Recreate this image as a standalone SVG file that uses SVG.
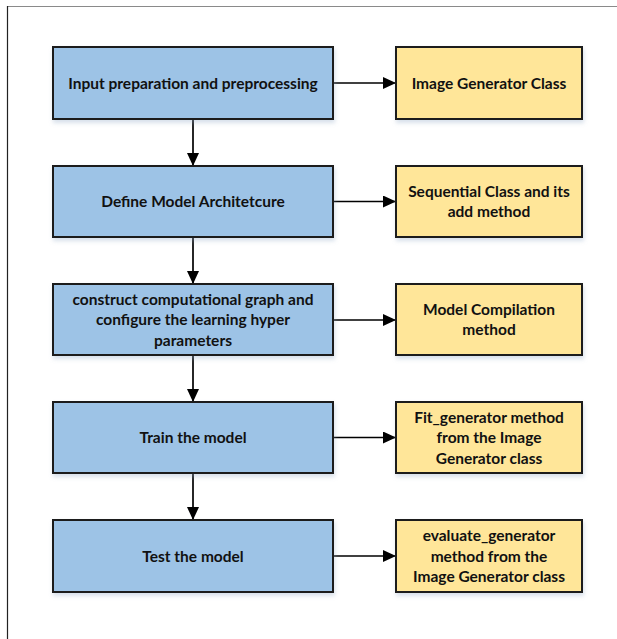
<svg xmlns="http://www.w3.org/2000/svg" width="617" height="639" viewBox="0 0 617 639">
  <style>
    .step { fill: #9DC3E6; stroke: #1a1a1a; stroke-width: 2; filter: url(#shadow); }
    .tool { fill: #FFE699; stroke: #1a1a1a; stroke-width: 2; filter: url(#shadow); }
    .label { font-family: Lato, "Liberation Sans", sans-serif; font-weight: bold; font-size: 15.5px; fill: #111; text-anchor: middle; }
    .edge { stroke: #000; stroke-width: 1.7; fill: none; marker-end: url(#arrow); }
  </style>
  <defs>
    <filter id="shadow" x="-10%" y="-10%" width="120%" height="140%">
      <feDropShadow dx="1" dy="3" stdDeviation="2" flood-color="#8fa6c4" flood-opacity="0.35"/>
    </filter>
    <marker id="arrow" markerWidth="14" markerHeight="12" refX="13" refY="6" orient="auto" markerUnits="userSpaceOnUse">
      <path d="M0,0 L13,6 L0,12 Z" fill="#000"/>
    </marker>
  </defs>

  <rect width="617" height="639" fill="#fff"/>
  <!-- frame -->
  <line x1="7" y1="6.5" x2="617" y2="6.5" stroke="#8a8a8a" stroke-width="1.2"/>
  <line x1="7.5" y1="6" x2="7.5" y2="639" stroke="#222" stroke-width="1.2"/>

  <g id="connectors">
    <line class="edge" x1="193" y1="120" x2="193" y2="166"/>
    <line class="edge" x1="193" y1="238" x2="193" y2="284"/>
    <line class="edge" x1="193" y1="356" x2="193" y2="402"/>
    <line class="edge" x1="193" y1="474" x2="193" y2="520"/>
    <line class="edge" x1="333" y1="83" x2="396" y2="83"/>
    <line class="edge" x1="333" y1="201.5" x2="396" y2="201.5"/>
    <line class="edge" x1="333" y1="320" x2="396" y2="320"/>
    <line class="edge" x1="333" y1="437.5" x2="396" y2="437.5"/>
    <line class="edge" x1="333" y1="556" x2="396" y2="556"/>
  </g>

  <g id="input-prep">
    <rect class="step" x="53" y="47" width="280" height="72"/>
    <text class="label" x="193" y="88.5">Input preparation and preprocessing</text>
  </g>
  <g id="define-model">
    <rect class="step" x="53" y="166" width="280" height="71"/>
    <text class="label" x="193" y="207">Define Model Architetcure</text>
  </g>
  <g id="construct-graph">
    <rect class="step" x="53" y="284" width="280" height="71"/>
    <text class="label" x="193" y="304.5">construct computational graph and</text>
    <text class="label" x="193" y="325">configure the learning hyper</text>
    <text class="label" x="193" y="345.5">parameters</text>
  </g>
  <g id="train-model">
    <rect class="step" x="53" y="402" width="280" height="71"/>
    <text class="label" x="193" y="443">Train the model</text>
  </g>
  <g id="test-model">
    <rect class="step" x="53" y="520" width="280" height="72"/>
    <text class="label" x="193" y="561.5">Test the model</text>
  </g>

  <g id="image-generator-class">
    <rect class="tool" x="396" y="47" width="186" height="72"/>
    <text class="label" x="489" y="88.5">Image Generator Class</text>
  </g>
  <g id="sequential-class">
    <rect class="tool" x="396" y="166" width="186" height="71"/>
    <text class="label" x="489" y="197">Sequential Class and its</text>
    <text class="label" x="489" y="217">add method</text>
  </g>
  <g id="model-compilation">
    <rect class="tool" x="396" y="284" width="186" height="71"/>
    <text class="label" x="489" y="315">Model Compilation</text>
    <text class="label" x="489" y="335">method</text>
  </g>
  <g id="fit-generator">
    <rect class="tool" x="396" y="402" width="186" height="71"/>
    <text class="label" x="489" y="422.5">Fit_generator method</text>
    <text class="label" x="489" y="443">from the Image</text>
    <text class="label" x="489" y="463.5">Generator class</text>
  </g>
  <g id="evaluate-generator">
    <rect class="tool" x="396" y="520" width="186" height="72"/>
    <text class="label" x="489" y="541">evaluate_generator</text>
    <text class="label" x="489" y="561.5">method from the</text>
    <text class="label" x="489" y="582">Image Generator class</text>
  </g>
</svg>
